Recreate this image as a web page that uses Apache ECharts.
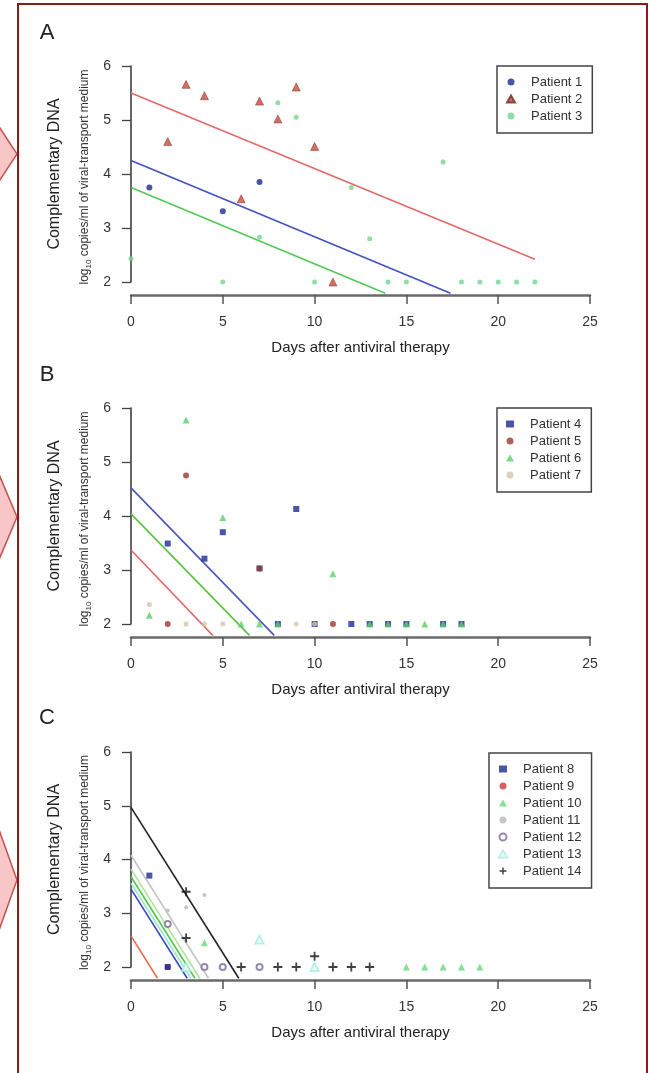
<!DOCTYPE html>
<html><head><meta charset="utf-8">
<script src="https://cdn.jsdelivr.net/npm/echarts@6/dist/echarts.min.js"></script>
<style>html,body{margin:0;padding:0;background:#fff}#c{width:650px;height:1073px}</style>
</head><body><div id="c"></div>
<script>
// ---------- axis ticks / titles ----------
const xTicks = [0, 5, 10, 15, 20, 25];
const yTicks = [2, 3, 4, 5, 6];
const xTitle = 'Days after antiviral therapy';
const yTitle = 'Complementary DNA';
const panelLetters = ['A', 'B', 'C'];

// ---------- Panel A : [day, log10 copies/ml] ----------
const patient1 = [[1, 3.75], [5, 3.31], [7, 3.85]];
const patient2 = [[2, 4.60], [3, 5.66], [4, 5.45], [6, 3.54], [7, 5.35], [8, 5.02], [9, 5.61], [10, 4.51], [11, 2.0]];
const patient3 = [[0, 2.43], [5, 2], [7, 2.83], [8, 5.32], [9, 5.05], [10, 2], [12, 3.75], [13, 2.80], [14, 2], [15, 2], [17, 4.22], [18, 2], [19, 2], [20, 2], [21, 2], [22, 2]];
const fit1 = [[0, 4.25], [17.4, 1.79]];
const fit2 = [[0, 5.50], [22, 2.42]];
const fit3 = [[0, 3.75], [13.85, 1.79]];

// ---------- Panel B ----------
const patient4 = [[2, 3.49], [4, 3.21], [5, 3.70], [7, 3.03], [9, 4.13], [8, 2], [10, 2], [12, 2], [13, 2], [14, 2], [15, 2], [17, 2], [18, 2]];
const patient5 = [[2, 2], [3, 4.75], [7, 3.03], [11, 2]];
const patient6 = [[1, 2.16], [3, 5.78], [5, 3.97], [6, 2], [7, 2], [8, 2], [11, 2.93], [13, 2], [14, 2], [15, 2], [16, 2], [17, 2], [18, 2]];
const patient7 = [[1, 2.36], [3, 2], [4, 2], [5, 2], [9, 2], [10, 2]];
const fit4 = [[0, 4.52], [7.8, 1.79]];
const fit5 = [[0, 3.37], [4.45, 1.79]];
const fit6 = [[0, 4.04], [6.45, 1.79]];

// ---------- Panel C ----------
const patient8 = [[1, 3.70], [2, 2]];
const patient9 = [[2, 2]];
const patient10 = [[4, 2.45], [15, 2], [16, 2], [17, 2], [18, 2], [19, 2]];
const patient11 = [[2, 3.05], [3, 3.11], [4, 3.34]];
const patient12 = [[2, 2.80], [4, 2], [5, 2], [7, 2]];
const patient13 = [[3, 2], [7, 2.51], [10, 2]];
const patient14 = [[3, 3.40], [3, 2.54], [6, 2], [8, 2], [9, 2], [10, 2.2], [11, 2], [12, 2], [13, 2]];
const fit8 = [[0, 3.45], [3.06, 1.79]];
const fit9 = [[0, 2.58], [1.44, 1.79]];
const fit10 = [[0, 3.68], [3.48, 1.79]];
const fit11 = [[0, 4.08], [4.22, 1.79]];
const fit12 = [[0, 3.82], [3.74, 1.79]];
const fit13 = [[0, 3.56], [3.26, 1.79]];
const fit14 = [[0, 4.97], [5.87, 1.79]];

// ---------- build ----------
const FONT = 'Liberation Sans, Arial, Helvetica, sans-serif';
const PLUS = 'path://M4,0H6V4H10V6H6V10H4V6H0V4H4Z';

function pts(name, data, g, symbol, size, color, extra) {
  return Object.assign({
    type: 'scatter', name: name, data: data, xAxisIndex: g, yAxisIndex: g,
    symbol: symbol, symbolSize: size, z: 4, clip: false,
    itemStyle: { color: color }
  }, extra || {});
}
function fit(name, data, g, color, w) {
  return {
    type: 'line', name: name, data: data, xAxisIndex: g, yAxisIndex: g,
    symbol: 'none', showSymbol: false, clip: false, silent: true, z: 2,
    lineStyle: { color: color, width: w || 1.6 }
  };
}

const gridTops = [66, 408, 752];
const gridH = [216, 216, 215];

const grids = gridTops.map((t, i) => ({ left: 131, top: t, width: 459, height: gridH[i], outerBoundsMode: 'none' }));
const xAxes = gridTops.map((t, i) => ({
  gridIndex: i, type: 'value', min: xTicks[0], max: xTicks[xTicks.length - 1], interval: xTicks[1] - xTicks[0],
  offset: 13,
  axisLine: { show: true, onZero: false, lineStyle: { color: '#6a6a6a', width: 2.5 } },
  axisTick: { show: true, length: 9, lineStyle: { color: '#555', width: 1.5 } },
  axisLabel: { margin: 20, fontSize: 14, color: '#333', fontFamily: FONT },
  splitLine: { show: false },
  name: xTitle, nameLocation: 'middle', nameGap: 45,
  nameTextStyle: { fontSize: 15, color: '#222', fontFamily: FONT }
}));
const yAxes = gridTops.map((t, i) => ({
  gridIndex: i, type: 'value', min: yTicks[0], max: yTicks[yTicks.length - 1], interval: yTicks[1] - yTicks[0],
  axisLine: { show: true, lineStyle: { color: '#333', width: 1.5 } },
  axisTick: { show: true, length: 9, lineStyle: { color: '#444', width: 1.3 } },
  axisLabel: { margin: 20, fontSize: 14, color: '#333', fontFamily: FONT },
  splitLine: { show: false }
}));

const series = [
  // A
  fit('fit1', fit1, 0, '#4352c2'), fit('fit2', fit2, 0, '#e06a6a'), fit('fit3', fit3, 0, '#52c856'),
  pts('Patient 1', patient1, 0, 'circle', 6, '#1c2a8c'),
  pts('Patient 2', patient2, 0, 'triangle', 8, '#cc4a3c', { itemStyle: { color: '#cc4a3c', borderColor: '#6b2a20', borderWidth: 0.6 } }),
  pts('Patient 3', patient3, 0, 'circle', 5, '#72d68e'),
  // B
  fit('fit4', fit4, 1, '#4a55b8'), fit('fit5', fit5, 1, '#e06a6a'), fit('fit6', fit6, 1, '#5cc040'),
  pts('Patient 4', patient4, 1, 'rect', 6, '#1a2a96'),
  pts('Patient 5', patient5, 1, 'circle', 6, '#9a3a2e'),
  pts('Patient 6', patient6, 1, 'triangle', 7, '#5ccf6a', { itemStyle: { color: '#5ccf6a', opacity: 0.8 } }),
  pts('Patient 7', patient7, 1, 'circle', 5, '#d6c6a8'),
  // C
  fit('fit9', fit9, 2, '#e0704e'), fit('fit8', fit8, 2, '#3848c0'), fit('fit13', fit13, 2, '#9fe2cf'),
  fit('fit10', fit10, 2, '#4cc84c'), fit('fit12', fit12, 2, '#b6e29a'), fit('fit11', fit11, 2, '#c4c4c4'),
  fit('fit14', fit14, 2, '#222'),
  pts('Patient 9', patient9, 2, 'circle', 6, '#cc3a3a'),
  pts('Patient 8', patient8, 2, 'rect', 6, '#1a2a96'),
  pts('Patient 10', patient10, 2, 'triangle', 7, '#6ad67a'),
  pts('Patient 11', patient11, 2, 'circle', 4, '#b8b8b8'),
  pts('Patient 12', patient12, 2, 'emptyCircle', 6, '#7a6e90', { itemStyle: { color: '#7a6e90', borderWidth: 1.4 } }),
  pts('Patient 13', patient13, 2, 'emptyTriangle', 8, '#a6eedc', { itemStyle: { color: '#a6eedc', borderWidth: 1.4 } }),
  pts('Patient 14', patient14, 2, PLUS, 9, '#111')
];

const legendNames = [
  [['Patient 1', 'circle'], ['Patient 2', 'triangle'], ['Patient 3', 'circle']],
  [['Patient 4', 'rect'], ['Patient 5', 'circle'], ['Patient 6', 'triangle'], ['Patient 7', 'circle']],
  [['Patient 8', 'rect'], ['Patient 9', 'circle'], ['Patient 10', 'triangle'], ['Patient 11', 'circle'], ['Patient 12', 'emptyCircle'], ['Patient 13', 'emptyTriangle'], ['Patient 14', PLUS]]
];
const legendPos = [[497, 66], [497, 408], [489, 753]];
const legends = legendNames.map((arr, i) => ({
  orient: 'vertical', left: legendPos[i][0], top: legendPos[i][1],
  data: arr.map(a => ({ name: a[0], icon: a[1] })),
  itemWidth: 8, itemHeight: 7, itemGap: 3, selectedMode: false,
  padding: [9, 10, 10, 9],
  borderColor: '#444', borderWidth: 1.5, backgroundColor: '#fff',
  textStyle: { fontSize: 13, color: '#333', fontFamily: FONT, lineHeight: 14, padding: [0, 0, 0, 11] }
}));

// decorations: frame, pink arrows, panel letters, y titles
const graphic = [];
const arrowBoxes = [[125, 154, 183], [472, 517, 562], [827, 880, 933]];
arrowBoxes.forEach(b => {
  graphic.push({ type: 'polygon', z: 50,
    shape: { points: [[-40, b[0]], [-2, b[0]], [17, b[1]], [-2, b[2]], [-40, b[2]]] },
    style: { fill: '#f8c6c6', stroke: '#c8504d', lineWidth: 1.5 } });
});
graphic.push({ type: 'rect', z: 60, shape: { x: 18, y: 4, width: 629, height: 1200 },
  style: { fill: 'none', stroke: '#8b1a1a', lineWidth: 2 } });
const letterY = [33, 375, 718];
letterY.forEach((y, i) => {
  graphic.push({ type: 'text', x: 47, y: y, z: 50,
    style: { text: panelLetters[i], font: '22px ' + FONT, fill: '#222', align: 'center', verticalAlign: 'middle' } });
});
gridTops.forEach((t, i) => {
  const cy = t + gridH[i] / 2;
  graphic.push({ type: 'text', x: 55, y: cy, rotation: Math.PI / 2, z: 50,
    style: { text: yTitle, font: '16px ' + FONT, fill: '#222', align: 'center', verticalAlign: 'middle' } });
  graphic.push({ type: 'text', x: 85, y: cy + 3, rotation: Math.PI / 2, z: 50,
    style: { text: '{n|log}{s|10}{n| copies/ml of viral-transport medium}', align: 'center', verticalAlign: 'middle',
      rich: { n: { fontSize: 12, fontFamily: FONT, fill: '#333', lineHeight: 15 },
              s: { fontSize: 8, fontFamily: FONT, fill: '#333', lineHeight: 15, verticalAlign: 'bottom', padding: [5, 0, 0, 0] } } } });
});

const chart = echarts.init(document.getElementById('c'), null, { renderer: 'canvas' });
chart.setOption({
  animation: false,
  backgroundColor: '#fff',
  textStyle: { fontFamily: FONT },
  grid: grids, xAxis: xAxes, yAxis: yAxes,
  legend: legends, series: series, graphic: graphic
});
</script>
</body></html>
